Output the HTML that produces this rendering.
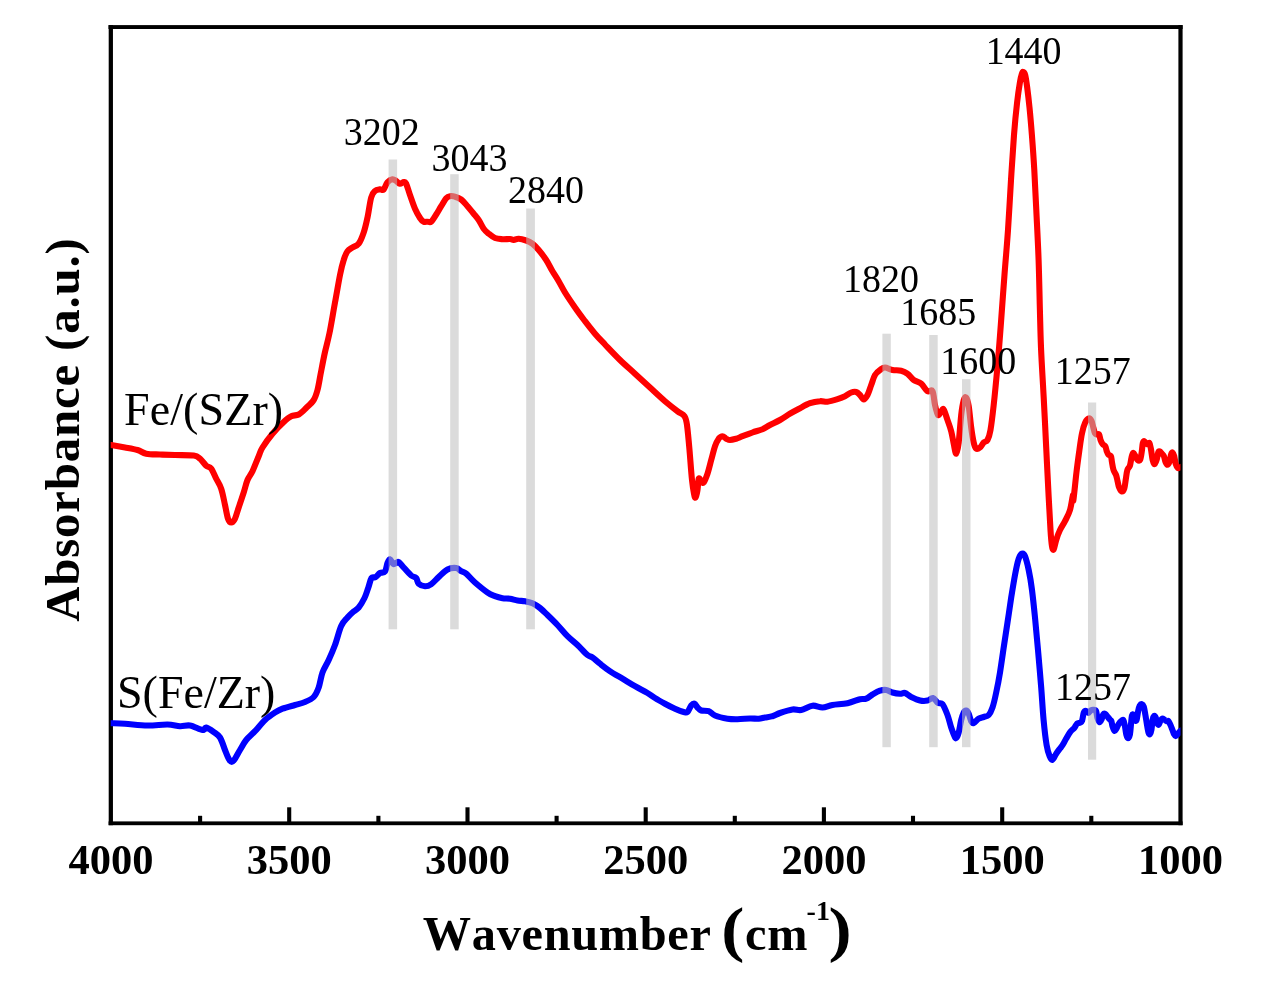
<!DOCTYPE html>
<html><head><meta charset="utf-8"><title>FTIR</title>
<style>
html,body{margin:0;padding:0;background:#fff;}
body{width:1264px;height:986px;overflow:hidden;font-family:"Liberation Serif",serif;}
svg{display:block;will-change:transform;}
svg text{font-family:"Liberation Serif",serif;fill:#000;font-kerning:none;}
</style></head><body>
<svg width="1264" height="986" viewBox="0 0 1264 986">
<rect x="0" y="0" width="1264" height="986" fill="#ffffff"/>
<g stroke="#000" stroke-width="4.1" stroke-linecap="butt">
<line x1="200.1" y1="815.8" x2="200.1" y2="823.2"/>
<line x1="289.2" y1="807.3" x2="289.2" y2="823.2"/>
<line x1="378.4" y1="815.8" x2="378.4" y2="823.2"/>
<line x1="467.5" y1="807.3" x2="467.5" y2="823.2"/>
<line x1="556.6" y1="815.8" x2="556.6" y2="823.2"/>
<line x1="645.7" y1="807.3" x2="645.7" y2="823.2"/>
<line x1="734.8" y1="815.8" x2="734.8" y2="823.2"/>
<line x1="823.9" y1="807.3" x2="823.9" y2="823.2"/>
<line x1="913.0" y1="815.8" x2="913.0" y2="823.2"/>
<line x1="1002.2" y1="807.3" x2="1002.2" y2="823.2"/>
<line x1="1091.3" y1="815.8" x2="1091.3" y2="823.2"/>
</g>
<g fill="#000">
<rect x="108.5" y="25.1" width="1074.1" height="3.9"/>
<rect x="108.6" y="821.4" width="1074" height="3.8"/>
<rect x="108.7" y="25.1" width="4.25" height="800.1"/>
<rect x="1178.4" y="25.1" width="4.2" height="800.1"/>
</g>
<clipPath id="cp"><rect x="110.7" y="27" width="1069.8" height="796.2"/></clipPath>
<g clip-path="url(#cp)" fill="none" stroke-linecap="round" stroke-linejoin="round" stroke-width="6.1">
<path stroke="#ff0000" d="M107.0,444.4 C107.7,444.5 108.2,444.5 111.2,445.0 C114.2,445.5 120.6,446.7 125.0,447.5 C129.4,448.3 134.0,449.0 137.5,450.0 C141.0,451.0 142.4,452.9 146.2,453.7 C149.9,454.4 155.2,454.3 160.0,454.5 C164.8,454.7 169.4,454.8 175.0,455.0 C180.6,455.2 189.5,454.9 193.7,455.5 C197.9,456.1 197.9,457.0 200.0,458.7 C202.1,460.4 204.3,464.0 206.2,465.7 C208.1,467.4 209.5,466.5 211.2,468.7 C212.9,470.9 214.5,475.4 216.2,478.7 C217.9,482.0 219.7,484.3 221.2,488.7 C222.7,493.1 223.9,500.0 225.0,505.0 C226.1,510.0 227.0,515.8 228.0,518.7 C229.0,521.6 230.0,522.5 231.2,522.5 C232.4,522.5 233.8,521.2 235.0,518.7 C236.2,516.2 237.2,511.9 238.7,507.5 C240.1,503.1 242.2,497.1 243.7,492.5 C245.2,487.9 246.0,483.6 247.5,480.0 C249.0,476.4 250.6,475.2 252.5,471.2 C254.4,467.2 257.0,460.1 258.7,456.2 C260.4,452.2 260.2,451.2 262.5,447.5 C264.8,443.8 269.0,437.9 272.5,433.7 C276.0,429.4 280.6,424.9 283.7,422.0 C286.8,419.1 288.7,417.4 291.2,416.2 C293.7,414.9 296.2,415.9 298.7,414.5 C301.2,413.1 303.7,410.4 306.2,408.0 C308.7,405.6 311.8,403.0 313.7,400.0 C315.6,397.0 316.2,394.8 317.5,390.0 C318.8,385.2 319.9,377.3 321.2,371.0 C322.4,364.7 323.6,358.3 325.0,352.0 C326.4,345.7 327.8,341.2 329.5,333.0 C331.2,324.8 333.2,312.2 335.0,302.5 C336.8,292.8 338.6,282.1 340.0,275.0 C341.4,267.9 342.4,264.0 343.7,260.0 C344.9,256.0 346.0,253.3 347.5,251.2 C349.0,249.1 350.6,248.8 352.5,247.5 C354.4,246.2 356.8,246.2 358.7,243.7 C360.6,241.2 362.2,236.9 363.7,232.5 C365.2,228.1 366.2,223.3 367.5,217.5 C368.8,211.7 369.9,201.9 371.2,197.5 C372.4,193.1 373.5,192.4 375.0,191.0 C376.5,189.6 378.6,189.6 380.0,189.3 C381.4,189.1 382.4,190.7 383.7,189.5 C384.9,188.3 386.0,183.9 387.5,182.2 C389.0,180.5 391.1,179.4 392.5,179.2 C393.9,179.0 394.9,180.2 396.2,181.0 C397.4,181.8 398.8,183.6 400.0,183.8 C401.2,184.0 402.7,182.0 403.7,182.0 C404.7,182.0 405.1,181.5 406.2,183.7 C407.2,185.9 408.5,190.8 410.0,195.0 C411.5,199.2 413.3,204.9 415.0,208.7 C416.7,212.5 418.6,215.8 420.0,218.0 C421.4,220.2 422.4,221.1 423.7,221.7 C424.9,222.3 426.2,221.7 427.5,221.7 C428.8,221.7 429.8,222.9 431.2,221.7 C432.6,220.5 434.5,217.1 436.2,214.5 C437.9,211.9 439.5,208.9 441.2,206.2 C442.9,203.5 444.7,199.9 446.2,198.2 C447.7,196.5 448.5,196.4 450.0,196.2 C451.5,195.9 453.1,196.1 455.0,196.7 C456.9,197.2 459.1,197.9 461.2,199.5 C463.3,201.1 465.4,203.8 467.5,206.2 C469.6,208.6 471.8,211.4 473.7,213.7 C475.6,216.0 477.0,217.5 478.7,220.0 C480.4,222.5 482.0,226.4 483.7,228.7 C485.4,231.0 486.8,232.1 488.7,233.7 C490.6,235.2 492.7,237.1 495.0,238.0 C497.3,238.9 500.0,239.0 502.5,239.2 C505.0,239.4 508.1,238.9 510.0,239.0 C511.9,239.1 512.2,240.1 513.7,240.0 C515.2,239.9 516.6,238.6 518.7,238.7 C520.8,238.8 523.9,239.7 526.2,240.5 C528.5,241.3 530.4,242.1 532.5,243.7 C534.6,245.3 536.4,247.3 538.7,250.0 C541.0,252.7 543.9,256.5 546.2,260.0 C548.5,263.5 550.4,267.7 552.5,271.2 C554.6,274.7 556.6,277.6 558.7,281.2 C560.8,284.8 562.3,288.1 565.0,292.5 C567.7,296.9 571.7,302.7 575.0,307.5 C578.3,312.3 581.7,316.8 585.0,321.2 C588.3,325.6 591.7,329.8 595.0,333.7 C598.3,337.6 600.8,340.1 605.0,344.5 C609.2,348.9 615.0,355.1 620.0,360.0 C625.0,364.9 630.0,369.1 635.0,373.7 C640.0,378.3 645.0,382.9 650.0,387.5 C655.0,392.1 660.4,397.2 665.0,401.2 C669.6,405.1 674.2,408.7 677.5,411.2 C680.8,413.7 682.9,413.9 684.5,416.2 C686.1,418.5 686.2,419.4 687.0,425.0 C687.8,430.6 688.7,440.8 689.5,450.0 C690.3,459.2 691.2,472.7 692.0,480.0 C692.8,487.3 693.4,490.8 694.0,493.7 C694.6,496.6 694.9,498.1 695.5,497.5 C696.1,496.9 697.0,493.1 697.5,490.0 C698.0,486.9 698.1,480.2 698.7,478.7 C699.3,477.2 700.4,480.6 701.2,481.2 C702.0,481.8 702.7,483.8 703.7,482.5 C704.8,481.2 706.2,477.4 707.5,473.7 C708.8,469.9 710.0,464.6 711.2,460.0 C712.5,455.4 713.8,449.8 715.0,446.2 C716.2,442.6 717.5,440.4 718.7,438.7 C720.0,437.0 721.2,436.2 722.5,436.2 C723.8,436.2 725.0,438.1 726.2,438.7 C727.5,439.3 728.3,440.0 730.0,440.0 C731.7,440.0 734.1,439.3 736.2,438.7 C738.3,438.1 739.8,437.2 742.5,436.2 C745.2,435.2 749.2,433.7 752.5,432.5 C755.8,431.3 759.6,430.4 762.5,429.2 C765.4,427.9 767.1,426.5 770.0,425.0 C772.9,423.5 776.7,421.9 780.0,420.0 C783.3,418.1 786.7,415.7 790.0,413.7 C793.3,411.7 796.7,409.9 800.0,408.2 C803.3,406.4 806.7,404.4 810.0,403.2 C813.3,402.0 817.1,401.4 820.0,401.2 C822.9,400.9 824.6,402.0 827.5,401.7 C830.4,401.4 834.6,400.1 837.5,399.2 C840.4,398.3 842.7,397.3 845.0,396.2 C847.3,395.1 849.3,393.2 851.2,392.5 C853.1,391.8 854.7,391.6 856.2,392.0 C857.7,392.4 858.8,393.8 860.0,395.0 C861.2,396.2 862.5,399.5 863.7,399.5 C865.0,399.5 866.2,397.4 867.5,395.0 C868.8,392.6 870.0,388.3 871.2,385.0 C872.5,381.7 873.5,377.5 875.0,375.0 C876.5,372.5 878.3,371.2 880.0,370.0 C881.7,368.8 882.9,367.5 885.0,367.5 C887.1,367.5 889.8,369.5 892.5,370.0 C895.2,370.5 898.7,370.1 901.2,370.7 C903.7,371.3 905.4,372.1 907.5,373.7 C909.6,375.2 911.4,378.3 913.7,380.0 C916.0,381.7 918.9,381.8 921.2,383.7 C923.5,385.6 925.6,389.9 927.5,391.2 C929.4,392.4 931.2,388.9 932.5,391.2 C933.8,393.5 934.1,401.0 935.0,405.0 C935.9,409.0 937.0,414.0 938.0,415.0 C939.0,416.0 940.2,412.1 941.2,411.2 C942.2,410.3 942.7,408.0 943.7,409.5 C944.8,411.0 946.2,416.4 947.5,420.0 C948.8,423.6 950.2,427.2 951.2,431.2 C952.2,435.1 952.9,439.9 953.7,443.7 C954.5,447.4 955.4,453.9 956.2,453.7 C957.0,453.5 957.9,448.9 958.7,442.5 C959.5,436.1 960.4,422.1 961.2,415.0 C962.0,407.9 962.9,403.1 963.7,400.2 C964.5,397.3 965.4,396.6 966.2,397.6 C967.0,398.6 967.9,401.0 968.7,406.0 C969.5,411.0 970.4,421.4 971.2,427.5 C972.0,433.6 972.9,439.0 973.7,442.5 C974.5,446.0 975.2,447.9 976.2,448.7 C977.2,449.5 978.8,448.5 980.0,447.5 C981.2,446.5 982.5,443.8 983.7,442.5 C985.0,441.2 986.4,442.1 987.5,440.0 C988.6,437.9 989.5,435.8 990.5,430.0 C991.5,424.2 992.5,415.8 993.7,405.0 C994.9,394.2 996.4,378.3 997.6,365.0 C998.8,351.7 999.7,339.8 1000.8,325.0 C1001.9,310.2 1003.2,291.8 1004.4,276.0 C1005.6,260.2 1006.9,246.0 1008.0,230.0 C1009.1,214.0 1010.0,195.8 1011.0,180.0 C1012.0,164.2 1013.0,147.9 1014.0,135.0 C1015.0,122.1 1016.1,111.2 1017.1,102.5 C1018.1,93.8 1019.1,87.3 1019.9,82.5 C1020.7,77.7 1021.3,75.5 1021.9,73.7 C1022.5,72.0 1022.7,71.8 1023.2,72.0 C1023.8,72.2 1024.5,72.4 1025.2,75.0 C1025.9,77.6 1026.5,82.1 1027.2,87.5 C1027.9,92.9 1028.7,99.6 1029.5,107.5 C1030.3,115.4 1031.1,124.6 1031.9,135.0 C1032.7,145.4 1033.6,157.5 1034.3,170.0 C1035.0,182.5 1035.6,195.0 1036.3,210.0 C1037.0,225.0 1038.0,243.3 1038.6,260.0 C1039.2,276.7 1039.5,295.4 1039.9,310.0 C1040.3,324.6 1040.4,332.9 1041.0,347.5 C1041.6,362.1 1042.8,380.8 1043.7,397.5 C1044.6,414.2 1045.4,430.8 1046.2,447.5 C1047.0,464.2 1048.0,483.8 1048.7,497.5 C1049.4,511.2 1050.0,521.9 1050.5,530.0 C1051.0,538.1 1051.5,543.0 1052.0,546.2 C1052.5,549.5 1053.0,550.5 1053.7,549.5 C1054.4,548.5 1055.2,543.2 1056.2,540.0 C1057.2,536.8 1058.5,533.1 1060.0,530.0 C1061.5,526.9 1063.3,524.5 1065.0,521.2 C1066.7,517.9 1068.7,514.4 1070.0,510.0 C1071.3,505.6 1072.4,496.7 1073.0,495.0 C1073.6,493.3 1072.8,503.8 1073.4,500.0 C1074.0,496.2 1075.5,480.4 1076.5,472.0 C1077.5,463.6 1078.6,455.9 1079.5,449.4 C1080.4,442.9 1081.1,437.4 1082.1,432.9 C1083.0,428.4 1084.1,425.0 1085.2,422.6 C1086.3,420.2 1087.8,418.8 1088.8,418.5 C1089.8,418.2 1090.6,419.1 1091.4,420.6 C1092.2,422.2 1092.8,425.7 1093.4,427.8 C1094.0,429.9 1094.4,432.3 1095.0,433.4 C1095.6,434.5 1096.3,434.3 1097.0,434.5 C1097.7,434.7 1098.5,433.6 1099.1,434.5 C1099.7,435.4 1100.0,438.5 1100.6,440.1 C1101.2,441.7 1101.9,443.2 1102.7,444.2 C1103.5,445.2 1104.6,445.1 1105.3,446.3 C1106.0,447.5 1106.3,450.0 1106.8,451.4 C1107.3,452.8 1107.6,453.7 1108.3,454.5 C1109.0,455.3 1110.3,454.9 1110.9,456.1 C1111.5,457.3 1111.5,459.4 1111.9,461.7 C1112.3,464.0 1112.8,467.7 1113.5,469.9 C1114.2,472.1 1115.4,473.2 1116.1,475.1 C1116.8,477.0 1117.1,479.2 1117.6,481.3 C1118.1,483.4 1118.4,485.7 1119.1,487.4 C1119.8,489.1 1120.8,491.3 1121.7,491.5 C1122.6,491.7 1123.6,490.4 1124.3,488.4 C1125.0,486.3 1125.3,482.3 1125.8,479.2 C1126.3,476.1 1126.7,472.1 1127.4,469.9 C1128.1,467.7 1129.2,467.9 1129.9,465.8 C1130.6,463.8 1131.0,459.7 1131.5,457.6 C1132.0,455.5 1132.4,453.4 1133.0,453.0 C1133.6,452.6 1134.3,454.3 1135.1,455.5 C1135.9,456.7 1136.8,459.5 1137.7,460.2 C1138.6,460.9 1139.5,461.2 1140.2,459.7 C1140.9,458.2 1141.4,454.1 1141.8,451.4 C1142.2,448.6 1142.4,444.9 1142.8,443.2 C1143.2,441.5 1143.6,440.9 1144.3,441.1 C1145.0,441.3 1146.0,443.9 1146.9,444.2 C1147.8,444.5 1148.8,442.3 1149.5,443.2 C1150.2,444.1 1150.5,446.6 1151.0,449.4 C1151.5,452.1 1152.0,457.2 1152.6,459.7 C1153.2,462.2 1153.9,464.3 1154.6,464.3 C1155.3,464.3 1156.1,461.7 1156.7,459.7 C1157.3,457.7 1157.7,453.9 1158.2,452.5 C1158.7,451.1 1159.2,451.2 1159.8,451.4 C1160.4,451.6 1161.1,452.7 1161.8,453.5 C1162.5,454.3 1163.3,454.7 1163.9,456.1 C1164.5,457.5 1164.8,460.2 1165.4,461.7 C1166.0,463.1 1166.8,464.8 1167.5,464.8 C1168.2,464.8 1168.9,463.4 1169.5,461.7 C1170.1,460.0 1170.6,456.0 1171.1,454.5 C1171.6,453.0 1172.1,452.2 1172.6,452.5 C1173.1,452.8 1173.7,454.2 1174.2,456.1 C1174.7,458.0 1175.1,461.8 1175.7,463.8 C1176.3,465.8 1177.1,467.3 1177.8,467.9 C1178.5,468.5 1179.3,467.5 1179.8,467.4 C1180.3,467.2 1180.8,467.1 1181.0,467.0"/>
<path stroke="#0000ff" d="M107.0,723.1 C107.7,723.1 108.2,723.1 111.2,723.2 C114.2,723.3 119.0,723.3 125.0,723.7 C131.1,724.1 140.4,725.4 147.5,725.5 C154.6,725.6 162.1,724.4 167.5,724.5 C172.9,724.6 176.2,726.0 180.0,726.2 C183.8,726.4 186.2,724.9 190.0,725.5 C193.8,726.1 199.8,729.7 202.5,730.0 C205.2,730.3 204.3,727.2 206.2,727.5 C208.1,727.8 211.4,730.3 213.7,732.0 C216.0,733.7 218.1,734.5 220.0,737.5 C221.9,740.5 223.6,746.5 225.0,750.0 C226.4,753.5 227.6,756.7 228.7,758.7 C229.8,760.7 230.6,762.0 231.7,762.0 C232.8,762.0 233.6,760.7 235.0,758.7 C236.4,756.7 238.1,753.1 240.0,750.0 C241.9,746.9 243.7,743.1 246.2,740.0 C248.7,736.9 251.9,734.5 255.0,731.2 C258.1,727.9 261.7,723.1 265.0,720.0 C268.3,716.9 272.1,714.4 275.0,712.5 C277.9,710.6 279.2,710.0 282.5,708.7 C285.8,707.5 291.2,706.1 295.0,705.0 C298.8,703.9 301.9,703.3 305.0,702.0 C308.1,700.7 311.4,699.4 313.7,697.0 C316.0,694.6 317.2,691.6 318.7,687.5 C320.2,683.4 320.8,677.1 322.5,672.5 C324.2,667.9 326.6,664.6 328.7,660.0 C330.8,655.4 332.9,650.7 335.0,645.0 C337.1,639.3 339.1,630.6 341.2,626.0 C343.3,621.4 345.6,619.8 347.5,617.5 C349.4,615.2 350.6,614.2 352.5,612.5 C354.4,610.8 356.7,609.9 358.7,607.5 C360.7,605.1 362.9,601.2 364.5,598.0 C366.1,594.8 367.0,591.3 368.2,588.0 C369.4,584.7 370.3,579.8 371.5,578.0 C372.7,576.2 374.1,578.0 375.5,577.2 C376.9,576.4 378.4,573.9 380.0,573.0 C381.6,572.1 383.8,573.3 385.0,571.6 C386.2,569.9 386.7,565.0 387.5,563.0 C388.3,561.0 389.0,559.1 390.0,559.3 C391.0,559.5 392.3,563.4 393.3,564.0 C394.3,564.6 395.3,563.3 396.2,563.0 C397.1,562.7 397.4,561.2 398.7,562.0 C399.9,562.8 401.6,565.2 403.7,567.5 C405.8,569.8 409.1,573.8 411.2,575.5 C413.3,577.2 414.9,576.6 416.2,578.0 C417.4,579.4 417.2,582.3 418.7,583.7 C420.2,585.1 422.9,586.1 425.0,586.2 C427.1,586.3 428.9,585.7 431.2,584.2 C433.5,582.7 436.0,579.5 438.7,577.0 C441.4,574.5 444.6,571.0 447.5,569.5 C450.4,568.0 453.9,567.7 456.2,568.0 C458.5,568.3 459.5,570.2 461.2,571.2 C462.9,572.2 463.9,571.8 466.2,573.7 C468.5,575.6 471.4,579.4 475.0,582.5 C478.6,585.6 484.2,590.2 487.5,592.5 C490.8,594.8 492.5,595.2 495.0,596.2 C497.5,597.2 500.0,597.8 502.5,598.2 C505.0,598.6 507.5,598.3 510.0,598.7 C512.5,599.1 515.0,600.1 517.5,600.5 C520.0,600.9 522.5,600.8 525.0,601.2 C527.5,601.7 530.0,602.1 532.5,603.2 C535.0,604.3 537.5,606.0 540.0,608.0 C542.5,610.0 544.6,612.2 547.5,615.0 C550.4,617.8 554.2,621.5 557.5,625.0 C560.8,628.5 564.2,632.9 567.5,636.2 C570.8,639.5 574.2,641.9 577.5,645.0 C580.8,648.1 585.0,652.9 587.5,655.0 C590.0,657.1 590.4,656.0 592.5,657.5 C594.6,659.0 597.1,661.4 600.0,663.7 C602.9,666.0 606.2,668.7 610.0,671.2 C613.8,673.7 618.3,676.2 622.5,678.7 C626.7,681.2 630.8,683.8 635.0,686.2 C639.2,688.6 644.2,691.0 647.5,693.0 C650.8,695.0 652.1,696.2 655.0,698.0 C657.9,699.8 661.7,701.9 665.0,703.7 C668.3,705.5 671.9,707.3 675.0,708.7 C678.1,710.1 681.6,711.5 683.7,712.0 C685.8,712.5 686.2,713.1 687.5,712.0 C688.8,710.9 690.0,706.9 691.2,705.5 C692.4,704.1 693.5,703.4 694.5,703.7 C695.5,704.0 696.4,706.4 697.5,707.5 C698.6,708.6 699.3,709.9 701.2,710.5 C703.1,711.1 706.4,710.4 708.7,711.2 C711.0,712.0 711.9,714.2 715.0,715.5 C718.1,716.8 723.8,718.1 727.5,718.7 C731.2,719.3 733.8,719.2 737.5,719.2 C741.2,719.2 746.5,718.6 750.0,718.5 C753.5,718.4 756.2,718.9 758.7,718.7 C761.2,718.5 762.7,717.9 765.0,717.5 C767.3,717.1 770.0,717.0 772.5,716.2 C775.0,715.5 776.7,714.1 780.0,713.0 C783.3,711.9 789.0,710.0 792.5,709.5 C796.0,709.0 797.9,710.6 801.2,710.0 C804.5,709.4 809.0,706.1 812.5,705.7 C816.0,705.3 819.2,707.6 822.5,707.5 C825.8,707.4 828.3,705.7 832.5,705.0 C836.7,704.3 842.9,704.2 847.5,703.2 C852.1,702.2 856.9,700.0 860.0,699.2 C863.1,698.5 864.1,699.5 866.2,698.7 C868.3,697.9 870.2,695.8 872.5,694.5 C874.8,693.2 877.7,691.5 880.0,690.7 C882.3,690.0 884.1,689.7 886.2,690.0 C888.3,690.3 890.2,691.9 892.5,692.5 C894.8,693.1 897.9,693.6 900.0,693.7 C902.1,693.8 903.1,692.5 905.0,693.0 C906.9,693.5 908.7,695.8 911.2,697.0 C913.7,698.2 917.3,699.9 920.0,700.5 C922.7,701.1 925.3,701.0 927.5,700.6 C929.7,700.2 931.2,697.6 933.0,698.0 C934.8,698.4 936.4,702.0 938.0,703.0 C939.6,704.0 940.9,702.2 942.5,704.2 C944.1,706.2 946.0,711.1 947.5,715.0 C949.0,718.9 950.0,724.0 951.2,727.5 C952.4,731.0 953.7,734.5 954.5,736.2 C955.3,738.0 955.5,738.6 956.2,738.0 C956.9,737.4 957.9,735.5 958.7,732.5 C959.5,729.5 960.4,723.3 961.2,720.0 C962.0,716.7 962.9,714.1 963.7,712.5 C964.5,710.9 965.4,710.3 966.2,710.5 C967.0,710.7 967.9,711.9 968.7,713.7 C969.5,715.5 970.4,719.7 971.2,721.2 C972.0,722.8 972.5,723.4 973.7,723.0 C975.0,722.6 977.0,719.7 978.7,718.7 C980.4,717.7 982.0,717.6 983.7,717.0 C985.4,716.4 987.2,716.6 988.7,715.0 C990.2,713.4 991.2,711.2 992.5,707.5 C993.8,703.8 995.0,698.3 996.2,692.5 C997.5,686.7 998.8,680.0 1000.0,672.5 C1001.2,665.0 1002.5,655.8 1003.7,647.5 C1005.0,639.2 1006.2,630.8 1007.5,622.5 C1008.8,614.2 1010.0,605.4 1011.2,597.5 C1012.5,589.6 1013.8,581.5 1015.0,575.0 C1016.2,568.5 1017.5,562.2 1018.7,558.7 C1019.9,555.2 1021.0,554.1 1022.0,553.7 C1023.0,553.3 1023.9,553.5 1025.0,556.2 C1026.1,558.9 1027.5,564.4 1028.7,570.0 C1029.9,575.6 1031.0,582.1 1032.0,590.0 C1033.0,597.9 1034.0,607.5 1035.0,617.5 C1036.0,627.5 1037.0,638.3 1038.0,650.0 C1039.0,661.7 1040.3,675.8 1041.2,687.5 C1042.1,699.2 1042.7,710.4 1043.6,720.0 C1044.5,729.6 1045.6,739.0 1046.6,745.0 C1047.6,751.0 1048.6,753.7 1049.6,756.2 C1050.6,758.7 1051.3,760.2 1052.4,759.8 C1053.5,759.4 1054.9,755.6 1056.2,753.7 C1057.5,751.8 1058.8,750.1 1060.0,748.5 C1061.2,746.9 1062.1,745.9 1063.1,744.2 C1064.1,742.6 1065.0,740.7 1066.2,738.6 C1067.4,736.5 1068.9,733.7 1070.3,731.9 C1071.7,730.1 1073.3,729.2 1074.4,727.8 C1075.5,726.4 1076.0,724.6 1077.0,723.7 C1078.0,722.9 1079.2,723.2 1080.1,722.7 C1080.9,722.2 1081.5,722.2 1082.1,720.6 C1082.7,719.0 1083.1,714.5 1083.7,712.9 C1084.3,711.3 1084.9,710.9 1085.7,710.9 C1086.5,710.9 1087.4,713.0 1088.3,712.9 C1089.2,712.8 1090.1,710.8 1090.9,710.3 C1091.8,709.8 1092.6,709.7 1093.4,709.8 C1094.2,709.9 1095.3,709.5 1096.0,710.9 C1096.7,712.3 1096.9,716.2 1097.5,718.1 C1098.1,720.0 1098.9,722.0 1099.6,722.2 C1100.3,722.4 1101.1,720.4 1101.7,719.1 C1102.3,717.8 1102.6,715.4 1103.2,714.5 C1103.8,713.6 1104.5,713.5 1105.3,713.9 C1106.1,714.3 1107.0,716.0 1107.8,717.0 C1108.6,718.0 1109.3,718.9 1109.9,719.6 C1110.5,720.3 1111.0,720.0 1111.4,721.1 C1111.8,722.2 1112.0,724.7 1112.5,726.3 C1113.0,727.9 1113.8,730.6 1114.5,730.9 C1115.2,731.2 1115.9,729.4 1116.6,728.3 C1117.3,727.2 1117.8,725.4 1118.6,724.2 C1119.4,723.0 1120.4,721.8 1121.2,721.1 C1122.0,720.4 1122.7,719.4 1123.3,720.1 C1123.9,720.8 1124.3,722.9 1124.8,725.3 C1125.3,727.7 1125.8,732.4 1126.3,734.5 C1126.8,736.6 1127.3,738.1 1127.9,738.1 C1128.5,738.1 1129.4,736.8 1129.9,734.5 C1130.4,732.2 1130.7,727.4 1131.0,724.2 C1131.3,721.0 1131.6,717.0 1132.0,715.5 C1132.4,714.0 1133.0,714.2 1133.5,715.0 C1134.0,715.8 1134.6,719.2 1135.1,720.1 C1135.6,721.0 1136.1,721.6 1136.6,720.1 C1137.1,718.6 1137.7,713.3 1138.2,710.9 C1138.7,708.5 1139.1,706.8 1139.7,705.7 C1140.3,704.6 1141.1,704.0 1141.8,704.2 C1142.5,704.4 1143.2,704.9 1143.8,706.7 C1144.4,708.5 1144.9,712.1 1145.4,715.0 C1145.9,717.9 1146.4,721.3 1146.9,724.2 C1147.4,727.1 1148.0,730.9 1148.5,732.5 C1149.0,734.1 1149.5,734.5 1150.0,734.0 C1150.5,733.5 1151.1,731.7 1151.5,729.4 C1151.9,727.1 1152.2,722.3 1152.6,720.1 C1153.0,717.9 1153.6,716.4 1154.1,716.0 C1154.6,715.6 1155.2,716.3 1155.7,717.5 C1156.2,718.7 1156.7,722.0 1157.2,723.2 C1157.7,724.4 1158.2,725.1 1158.7,724.7 C1159.2,724.4 1159.7,722.1 1160.3,721.1 C1160.9,720.1 1161.6,718.9 1162.3,718.6 C1163.0,718.4 1163.7,719.2 1164.4,719.6 C1165.1,720.0 1165.8,720.9 1166.5,721.1 C1167.2,721.4 1167.8,720.4 1168.5,721.1 C1169.2,721.8 1169.9,723.8 1170.6,725.3 C1171.3,726.8 1172.0,728.9 1172.6,730.4 C1173.2,731.9 1173.7,733.5 1174.2,734.5 C1174.7,735.5 1175.1,736.2 1175.7,736.1 C1176.3,736.0 1177.1,734.8 1177.8,734.0 C1178.5,733.2 1179.3,732.0 1179.8,731.4 C1180.3,730.8 1180.8,730.6 1181.0,730.5"/>
</g>
<g fill="rgb(190,190,190)" fill-opacity="0.55">
<rect x="388.6" y="159.5" width="8.5" height="469.8"/>
<rect x="450.2" y="174.2" width="8.5" height="455.1"/>
<rect x="526.2" y="208.5" width="8.7" height="420.8"/>
<rect x="882.4" y="333.7" width="8.4" height="413.5"/>
<rect x="929.2" y="335.0" width="8.5" height="412.2"/>
<rect x="962.0" y="379.2" width="8.5" height="368.0"/>
<rect x="1088.0" y="402.5" width="8.2" height="357.2"/>
</g>
<g font-size="42.5" font-weight="bold">
<text x="111.0" y="874.4" text-anchor="middle">4000</text>
<text x="289.2" y="874.4" text-anchor="middle">3500</text>
<text x="467.5" y="874.4" text-anchor="middle">3000</text>
<text x="645.7" y="874.4" text-anchor="middle">2500</text>
<text x="823.9" y="874.4" text-anchor="middle">2000</text>
<text x="1002.2" y="874.4" text-anchor="middle">1500</text>
<text x="1180.4" y="874.4" text-anchor="middle">1000</text>
</g>
<g font-size="40.6">
<text transform="translate(381.8,145.0) scale(0.935,1)" text-anchor="middle">3202</text>
<text transform="translate(469.5,171.2) scale(0.935,1)" text-anchor="middle">3043</text>
<text transform="translate(546.0,203.0) scale(0.935,1)" text-anchor="middle">2840</text>
<text transform="translate(881.0,292.4) scale(0.935,1)" text-anchor="middle">1820</text>
<text transform="translate(938.2,324.8) scale(0.935,1)" text-anchor="middle">1685</text>
<text transform="translate(978.2,374.3) scale(0.935,1)" text-anchor="middle">1600</text>
<text transform="translate(1023.6,64.0) scale(0.935,1)" text-anchor="middle">1440</text>
<text transform="translate(1092.8,383.9) scale(0.935,1)" text-anchor="middle">1257</text>
<text transform="translate(1093.0,700.0) scale(0.935,1)" text-anchor="middle">1257</text>
</g>
<g font-size="46">
<text x="124" y="424.9" letter-spacing="0.1">Fe/(SZr)</text>
<text x="117" y="707.5">S(Fe/Zr)</text>
</g>
<g font-size="48.3" font-weight="bold" letter-spacing="0.7">
<text x="422.8" y="949.5">Wavenumber</text>
<text x="745" y="949.5">cm</text>
<text transform="translate(721.2,949.5) scale(1.12,1)" font-size="62">(</text>
<text transform="translate(828.6,949.5) scale(1.12,1)" font-size="62">)</text>
<text x="806.6" y="920" font-size="28" letter-spacing="0">-1</text>
<text id="yt" transform="translate(79,429.6) rotate(-90)" text-anchor="middle" font-size="48.8" letter-spacing="0.85">Absorbance (a.u.)</text>
</g>
</svg>
</body></html>
